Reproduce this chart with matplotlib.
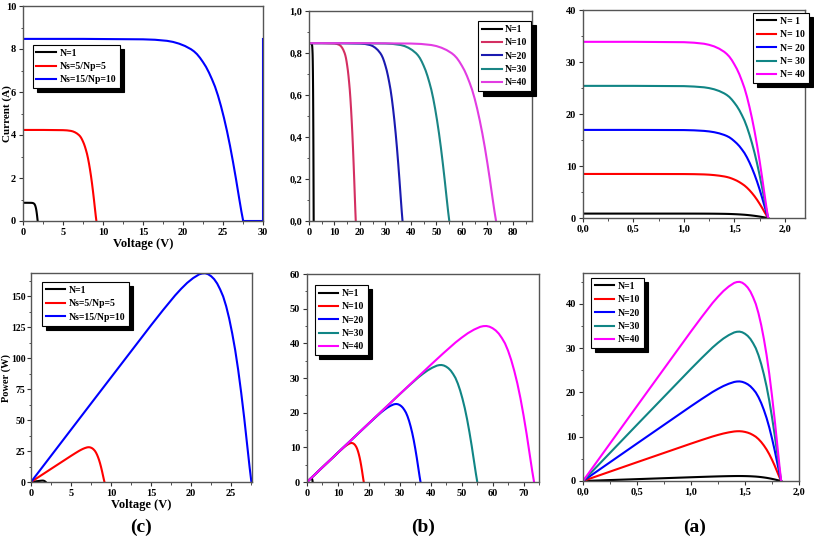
import matplotlib
matplotlib.use('Agg')
import matplotlib.pyplot as plt
from matplotlib.ticker import MultipleLocator, FuncFormatter

plt.rcParams['font.family'] = ['Liberation Serif', 'DejaVu Serif']
plt.rcParams['font.weight'] = 'bold'
plt.rcParams['axes.labelweight'] = 'bold'

# per-cell voltage (V), x axis of panel (a)
cell_v = [0, 0.5, 1.0, 1.1, 1.2, 1.25, 1.3, 1.35, 1.4, 1.425, 1.45, 1.475, 1.5, 1.525,
          1.55, 1.575, 1.6, 1.625, 1.65, 1.675, 1.7, 1.725, 1.75, 1.775, 1.8, 1.82, 1.835]

# single cell current (A), also the series strings of (b)
i_ser = [0.847, 0.847, 0.845, 0.843, 0.838, 0.833, 0.825, 0.814, 0.799, 0.789, 0.776, 0.759,
         0.739, 0.717, 0.690, 0.659, 0.625, 0.583, 0.534, 0.479, 0.418, 0.350, 0.275, 0.195,
         0.110, 0.044, 0]

# (a) parallel connection: current (A)
i_par_10 = [8.47, 8.47, 8.45, 8.43, 8.38, 8.33, 8.25, 8.14, 7.99, 7.89, 7.76, 7.59, 7.39, 7.17,
            6.90, 6.59, 6.25, 5.83, 5.34, 4.79, 4.18, 3.50, 2.75, 1.95, 1.10, 0.44, 0]
i_par_20 = [16.94, 16.94, 16.91, 16.86, 16.75, 16.65, 16.50, 16.28, 15.97, 15.77, 15.52, 15.18,
            14.77, 14.33, 13.81, 13.18, 12.50, 11.65, 10.67, 9.57, 8.35, 7.00, 5.51, 3.90,
            2.20, 0.88, 0]
i_par_30 = [25.41, 25.41, 25.36, 25.28, 25.13, 24.98, 24.75, 24.42, 23.96, 23.66, 23.28, 22.77,
            22.16, 21.50, 20.71, 19.77, 18.75, 17.48, 16.01, 14.36, 12.53, 10.49, 8.26, 5.84,
            3.30, 1.32, 0]
i_par_40 = [33.88, 33.88, 33.81, 33.71, 33.51, 33.30, 33.00, 32.56, 31.95, 31.54, 31.03, 30.36,
            29.54, 28.66, 27.61, 26.36, 25.00, 23.31, 21.34, 19.14, 16.70, 13.99, 11.01, 7.79,
            4.40, 1.76, 0]

# power (W), same values in (a) and (b)
p_1 = [0, 0.42, 0.845, 0.927, 1.006, 1.041, 1.073, 1.099, 1.119, 1.124, 1.125, 1.120, 1.109,
       1.093, 1.070, 1.038, 1.000, 0.947, 0.881, 0.802, 0.711, 0.604, 0.481, 0.346, 0.198,
       0.080, 0]
p_10 = [0, 4.24, 8.45, 9.27, 10.06, 10.41, 10.73, 10.99, 11.19, 11.24, 11.25, 11.20, 11.09,
        10.93, 10.70, 10.38, 10.00, 9.47, 8.81, 8.02, 7.11, 6.04, 4.81, 3.46, 1.98, 0.80, 0]
p_20 = [0, 8.47, 16.90, 18.54, 20.12, 20.82, 21.46, 21.98, 22.38, 22.48, 22.50, 22.40, 22.18,
        21.86, 21.40, 20.76, 20.00, 18.94, 17.62, 16.04, 14.22, 12.08, 9.62, 6.92, 3.96, 1.60, 0]
p_30 = [0, 12.71, 25.35, 27.81, 30.18, 31.23, 32.19, 32.97, 33.57, 33.72, 33.75, 33.60, 33.27,
        32.79, 32.10, 31.14, 30.00, 28.41, 26.43, 24.06, 21.33, 18.12, 14.43, 10.38, 5.94,
        2.40, 0]
p_40 = [0, 16.94, 33.80, 37.08, 40.24, 41.64, 42.92, 43.96, 44.76, 44.96, 45.00, 44.80, 44.36,
        43.72, 42.80, 41.52, 40.00, 37.88, 35.24, 32.08, 28.44, 24.16, 19.24, 13.84, 7.92,
        3.20, 0]

# (b) series connection: voltage (V)
v_ser_10 = [0, 5, 10, 11, 12, 12.5, 13, 13.5, 14, 14.25, 14.5, 14.75, 15, 15.25, 15.5, 15.75,
            16, 16.25, 16.5, 16.75, 17, 17.25, 17.5, 17.75, 18, 18.2, 18.35]
v_ser_20 = [0, 10, 20, 22, 24, 25, 26, 27, 28, 28.5, 29, 29.5, 30, 30.5, 31, 31.5, 32, 32.5,
            33, 33.5, 34, 34.5, 35, 35.5, 36, 36.4, 36.7]
v_ser_30 = [0, 15, 30, 33, 36, 37.5, 39, 40.5, 42, 42.75, 43.5, 44.25, 45, 45.75, 46.5, 47.25,
            48, 48.75, 49.5, 50.25, 51, 51.75, 52.5, 53.25, 54, 54.6, 55.05]
v_ser_40 = [0, 20, 40, 44, 48, 50, 52, 54, 56, 57, 58, 59, 60, 61, 62, 63, 64, 65, 66, 67, 68,
            69, 70, 71, 72, 72.8, 73.4]

# (c) mixed connection
v_c_red = [0, 2.5, 5, 5.5, 6, 6.25, 6.5, 6.75, 7, 7.125, 7.25, 7.375, 7.5, 7.625, 7.75, 7.875,
           8, 8.125, 8.25, 8.375, 8.5, 8.625, 8.75, 8.875, 9, 9.1, 9.175]
i_c_red = [4.235, 4.235, 4.225, 4.215, 4.19, 4.165, 4.125, 4.07, 3.995, 3.945, 3.88, 3.795,
           3.695, 3.585, 3.45, 3.295, 3.125, 2.915, 2.67, 2.395, 2.09, 1.75, 1.375, 0.975,
           0.55, 0.22, 0]
p_c_red = [0, 10.59, 21.13, 23.18, 25.15, 26.03, 26.83, 27.48, 27.98, 28.10, 28.13, 28.00,
           27.73, 27.33, 26.75, 25.95, 25.00, 23.68, 22.03, 20.05, 17.78, 15.10, 12.03, 8.65,
           4.95, 2.00, 0]
v_c_blue = [0, 7.5, 15, 16.5, 18, 18.75, 19.5, 20.25, 21, 21.375, 21.75, 22.125, 22.5, 22.875,
            23.25, 23.625, 24, 24.375, 24.75, 25.125, 25.5, 25.875, 26.25, 26.625, 27, 27.3,
            27.525]
i_c_blue = [8.47, 8.47, 8.45, 8.43, 8.38, 8.33, 8.25, 8.14, 7.99, 7.89, 7.76, 7.59, 7.39, 7.17,
            6.90, 6.59, 6.25, 5.83, 5.34, 4.79, 4.18, 3.50, 2.75, 1.95, 1.10, 0.44, 0]
p_c_blue = [0, 63.5, 126.8, 139.1, 150.9, 156.2, 161.0, 164.9, 167.9, 168.6, 168.8, 168.0,
            166.4, 164.0, 160.5, 155.7, 150.0, 142.1, 132.2, 120.3, 106.7, 90.6, 72.2, 51.9,
            29.7, 12.0, 0]
v_c_tail = [27.525, 30, 30]
i_c_tail = [0, 0, 8.47]

labels_n = ['N=1', 'N=10', 'N=20', 'N=30', 'N=40']
labels_n_sp = ['N= 1', 'N= 10', 'N= 20', 'N= 30', 'N= 40']
labels_c = ['N=1', 'Ns=5/Np=5', 'Ns=15/Np=10']

colors = ['black', '#ff0000', '#0000ff', '#108585', '#ff00ff']
colors_b = ['black', '#d42f62', '#1a1ab0', '#1a8585', '#e23ce2']

comma = FuncFormatter(lambda v, p: ('%.1f' % v).replace('.', ','))

fig = plt.figure(figsize=(8.14, 5.38), dpi=100)


def style(ax, xlim, ylim, xmaj, xmin, ymaj, ymin):
    ax.set_xlim(*xlim)
    ax.set_ylim(*ylim)
    ax.xaxis.set_major_locator(MultipleLocator(xmaj))
    ax.xaxis.set_minor_locator(MultipleLocator(xmin))
    ax.yaxis.set_major_locator(MultipleLocator(ymaj))
    ax.yaxis.set_minor_locator(MultipleLocator(ymin))
    ax.tick_params(which='both', direction='out', top=False, right=False,
                   labelsize=7.5, pad=2, color='#333333')
    ax.tick_params(which='major', length=3, width=0.8)
    ax.tick_params(which='minor', length=1.8, width=0.6)
    for s in ax.spines.values():
        s.set_color('#555555')
        s.set_linewidth(1.0)
    for lab in ax.get_xticklabels() + ax.get_yticklabels():
        lab.set_fontweight('bold')


def legend(ax, x, y, size=7):
    leg = ax.legend(loc='upper left', bbox_to_anchor=(x, y), fontsize=size,
                    frameon=True, fancybox=False, handlelength=2.0,
                    handletextpad=0.35, borderpad=0.4, labelspacing=0.45,
                    borderaxespad=0,
                    shadow={'color': 'black', 'alpha': 1.0, 'ox': 3, 'oy': -3})
    leg.get_frame().set_edgecolor('black')
    leg.get_frame().set_linewidth(0.8)
    for t in leg.get_texts():
        t.set_fontweight('bold')
    return leg


lw = 1.5

# top-left: (c) I-V
ax1 = fig.add_axes([23 / 814, 317 / 538, 240 / 814, 215 / 538])
ax1.plot(cell_v, i_ser, color=colors[0], lw=lw, label=labels_c[0])
ax1.plot(v_c_red, i_c_red, color=colors[1], lw=lw, label=labels_c[1])
ax1.plot(v_c_blue, i_c_blue, color=colors[2], lw=lw, label=labels_c[2])
ax1.plot(v_c_tail, i_c_tail, color=colors[2], lw=lw)
style(ax1, (0, 30), (0, 10), 5, 2.5, 2, 1)
ax1.set_xlabel('Voltage (V)', fontsize=9, labelpad=1)
ax1.set_ylabel('Current (A)', fontsize=8)
ax1.yaxis.set_label_coords((12.2 - 23) / 240, 0.5)
legend(ax1, 0.04, 0.82)

# top-middle: (b) I-V
ax2 = fig.add_axes([309 / 814, 317 / 538, 223 / 814, 210 / 538])
ax2.plot(cell_v, i_ser, color=colors_b[0], lw=lw, label=labels_n[0])
for v, c, lab in zip([v_ser_10, v_ser_20, v_ser_30, v_ser_40], colors_b[1:], labels_n[1:]):
    ax2.plot(v, i_ser, color=c, lw=lw, label=lab)
style(ax2, (0, 87.5), (0, 1.0), 10, 5, 0.2, 0.1)
ax2.yaxis.set_major_formatter(comma)
legend(ax2, 0.76, 0.952)

# top-right: (a) I-V
ax3 = fig.add_axes([583 / 814, 320 / 538, 222 / 814, 208 / 538])
for i, c, lab in zip([i_ser, i_par_10, i_par_20, i_par_30, i_par_40], colors, labels_n_sp):
    ax3.plot(cell_v, i, color=c, lw=lw, label=lab)
style(ax3, (0, 2.2), (0, 40), 0.5, 0.25, 10, 5)
ax3.xaxis.set_major_formatter(comma)
legend(ax3, 0.766, 0.986)

# bottom-left: (c) P-V
ax4 = fig.add_axes([31 / 814, 56 / 538, 221 / 814, 209 / 538])
ax4.plot(cell_v, p_1, color=colors[0], lw=lw, label=labels_c[0])
ax4.plot(v_c_red, p_c_red, color=colors[1], lw=lw, label=labels_c[1])
ax4.plot(v_c_blue, p_c_blue, color=colors[2], lw=lw, label=labels_c[2])
style(ax4, (0, 27.6), (0, 169), 5, 2.5, 25, 12.5)
ax4.tick_params(axis='y', which='both', labelsize=7, pad=1)
ax4.set_xlabel('Voltage (V)', fontsize=9, labelpad=1)
ax4.set_ylabel('Power (W)', fontsize=7.5)
ax4.yaxis.set_label_coords((11.4 - 31) / 221, 0.5)
legend(ax4, 0.05, 0.957)

# bottom-middle: (b) P-V
ax5 = fig.add_axes([307 / 814, 56 / 538, 232 / 814, 208 / 538])
for v, p, c, lab in zip([cell_v, v_ser_10, v_ser_20, v_ser_30, v_ser_40],
                        [p_1, p_10, p_20, p_30, p_40], colors, labels_n):
    ax5.plot(v, p, color=c, lw=lw, label=lab)
style(ax5, (0, 75), (0, 60), 10, 5, 10, 5)
legend(ax5, 0.034, 0.947)

# bottom-right: (a) P-V
ax6 = fig.add_axes([583 / 814, 57 / 538, 216 / 814, 208 / 538])
for p, c, lab in zip([p_1, p_10, p_20, p_30, p_40], colors, labels_n):
    ax6.plot(cell_v, p, color=c, lw=lw, label=lab)
style(ax6, (0, 2.0), (0, 47), 0.5, 0.25, 10, 5)
ax6.xaxis.set_major_formatter(comma)
legend(ax6, 0.037, 0.976)

for x, t in zip([141, 423, 695], ['(c)', '(b)', '(a)']):
    fig.text(x / 814, 11 / 538, t, ha='center', va='center', fontsize=14, fontweight='bold')

fig.savefig('out.png', dpi=100)
